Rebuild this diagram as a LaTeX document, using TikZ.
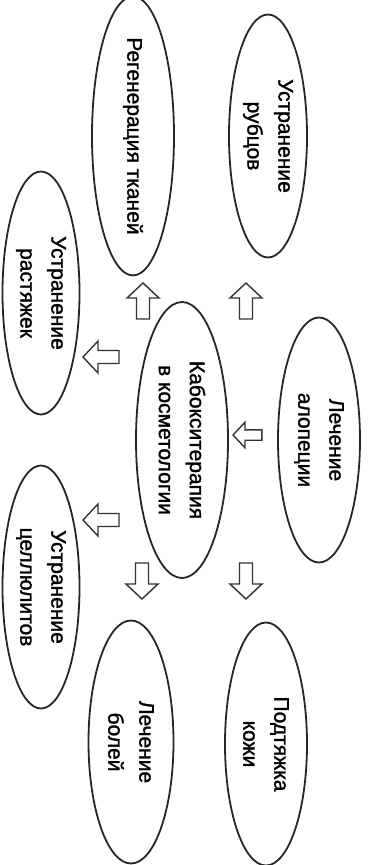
\documentclass[tikz,border=0pt]{standalone}
\usepackage{fontspec}
\setmainfont{Liberation Sans}
\newfontfamily\ovalfont{Liberation Sans}[FakeBold=1.5]
\usetikzlibrary{shapes.geometric}
\begin{document}
\begin{tikzpicture}[x=1pt,y=-1pt,
  oval/.style={ellipse, draw=black!85, line width=1.8pt, fill=white,
    rotate=-90, inner sep=0pt, align=center,
    font=\ovalfont\fontsize{21}{31}\selectfont},
  blockarrow/.pic={
    \draw[line width=1.4pt, draw=black!80, fill=white, line join=miter]
      (-36,-6.5) -- (-15,-6.5) -- (-15,-16) -- (0,0) -- (-15,16)
      -- (-15,6.5) -- (-36,6.5) -- cycle;
  }]
  \useasboundingbox (0,0) rectangle (370,865);

  % outer ring of topics
  \node[oval, minimum width=242pt, minimum height=82pt] (reg)  at (133,136) {Регенерация тканей};
  \node[oval, minimum width=243pt, minimum height=78pt] (rub)  at (268,136) {Устранение\\рубцов};
  \node[oval, minimum width=243pt, minimum height=77pt] (rast) at (41,293)  {Устранение\\растяжек};
  \node[oval, minimum width=276pt, minimum height=92pt] (main) at (182,440) {Кабокситерапия\\в косметологии};
  \node[oval, minimum width=245pt, minimum height=82pt] (alop) at (319,440) {Лечение\\алопеции};
  \node[oval, minimum width=243pt, minimum height=77pt] (cell) at (41,587)  {Устранение\\целлюлитов};
  \node[oval, minimum width=243pt, minimum height=85pt] (bol)  at (131,742) {Лечение\\болей};
  \node[oval, minimum width=243pt, minimum height=82pt] (podt) at (266,744) {Подтяжка\\кожи};

  % block arrows between the centre and the topics
  \pic[rotate=90]  (toreg)  at (143,283) {blockarrow};
  \pic[rotate=90]  (torub)  at (246,283) {blockarrow};
  \pic[rotate=180] (torast) at (83,357)  {blockarrow};
  \pic[rotate=180] (tocell) at (83,520)  {blockarrow};
  \pic[rotate=180, scale=0.8] (fromalop) at (233,435) {blockarrow};
  \pic[rotate=-90] (tobol)  at (142,599) {blockarrow};
  \pic[rotate=-90] (topodt) at (246,599) {blockarrow};
\end{tikzpicture}
\end{document}
